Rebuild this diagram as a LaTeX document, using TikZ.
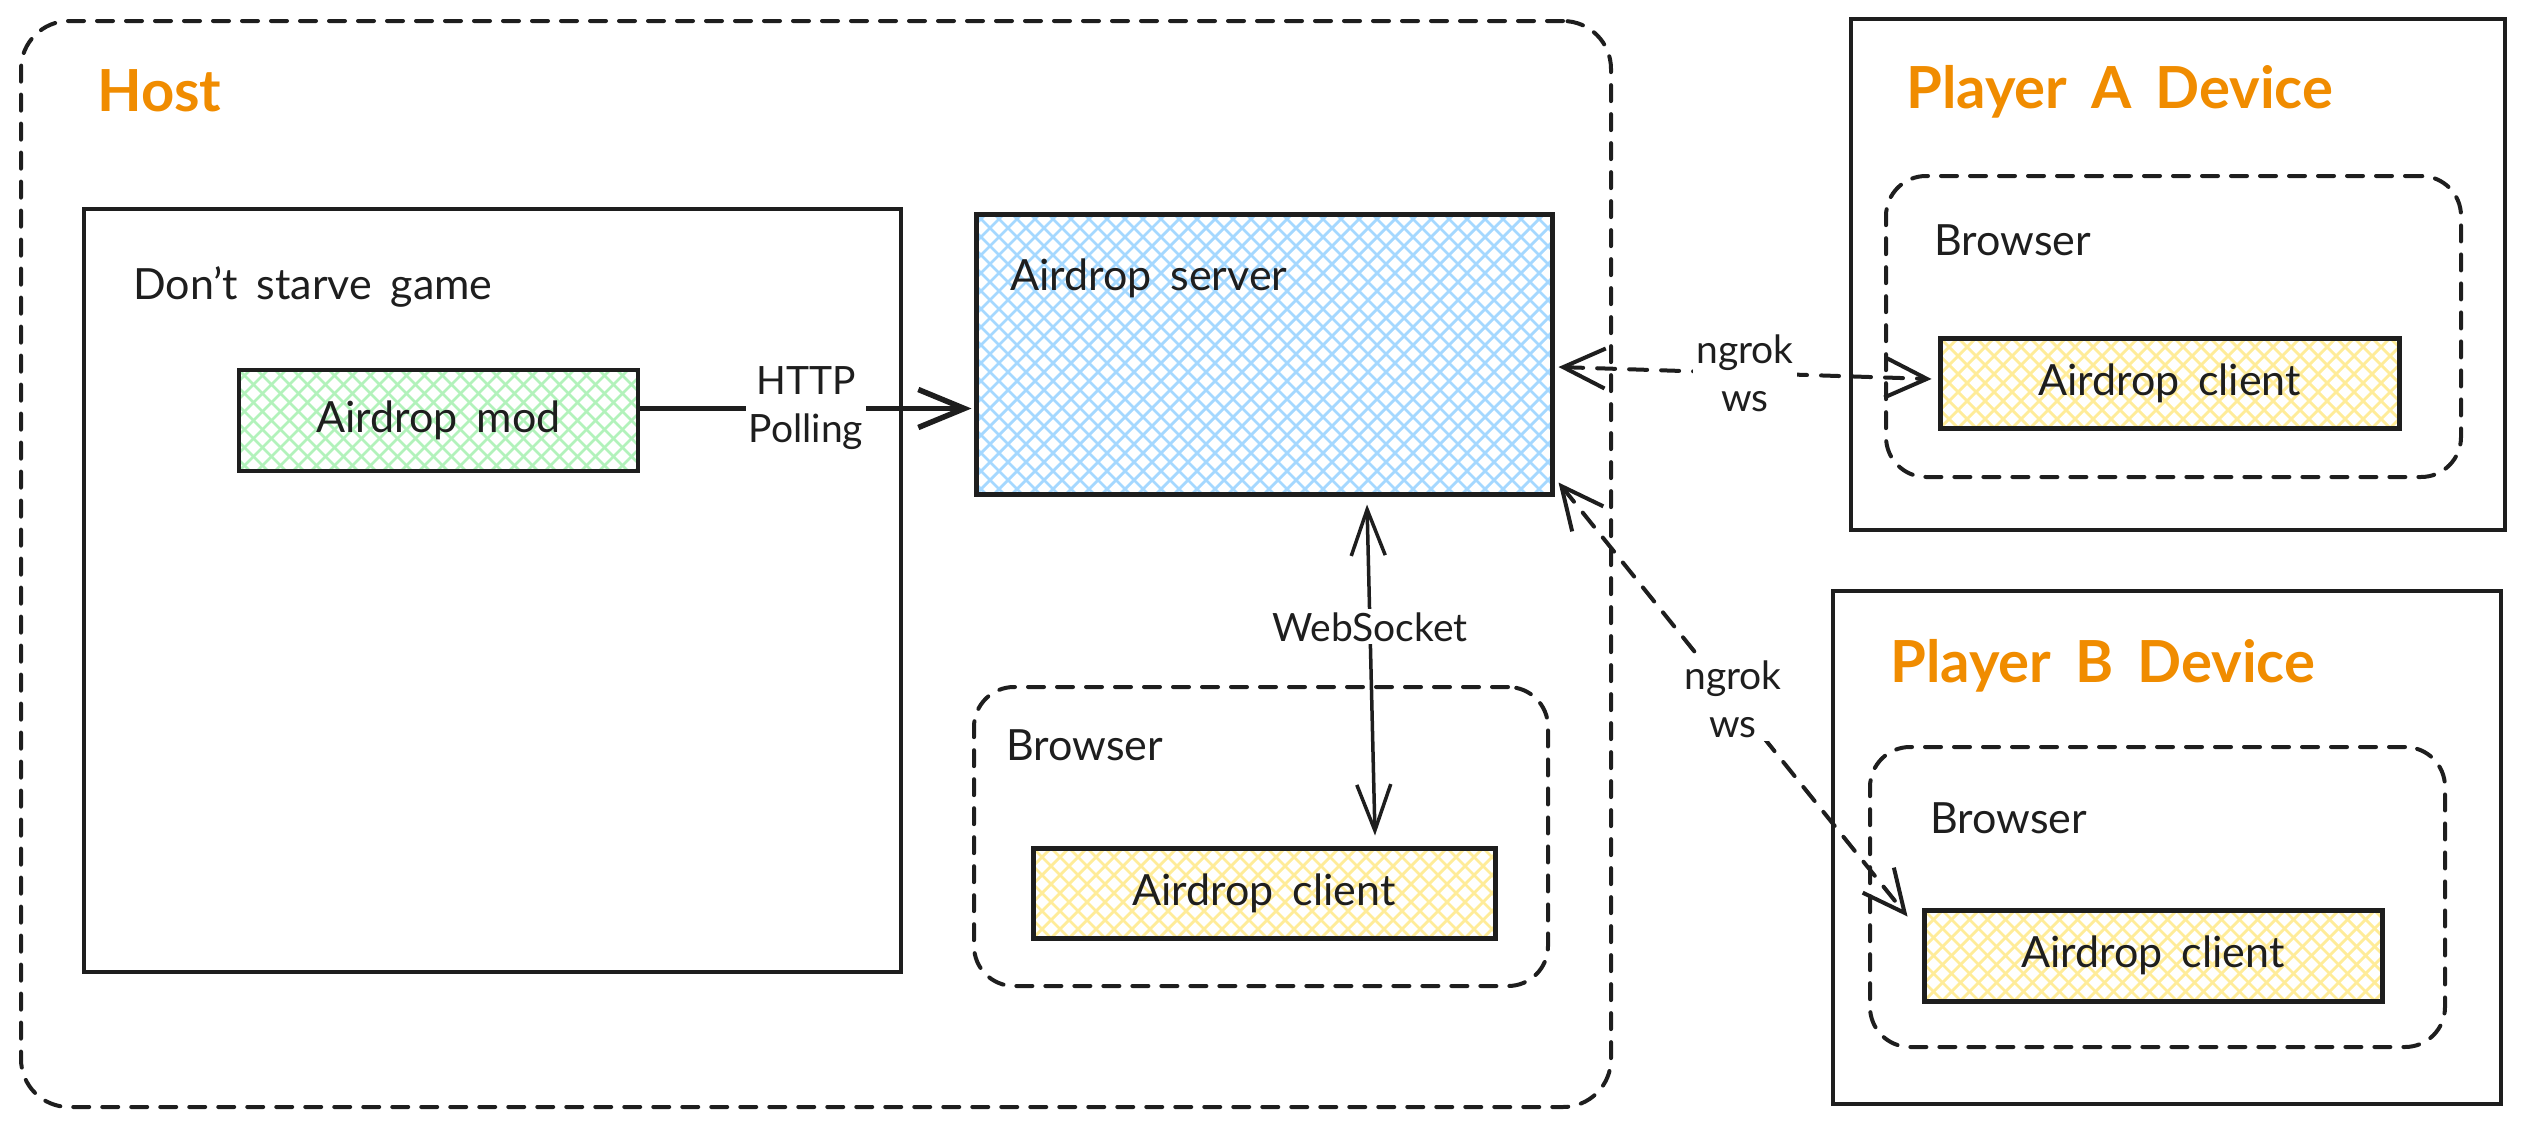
\documentclass[tikz,border=0pt]{standalone}
\usepackage{fontspec}
\setmainfont[WordSpace=1.7]{Lato}
\usetikzlibrary{arrows.meta,calc}
\definecolor{ink}{HTML}{1E1E1E}
\definecolor{orng}{HTML}{F08C00}
\definecolor{hblue}{HTML}{A5D8FF}
\definecolor{hgreen}{HTML}{B2F2BB}
\definecolor{hyellow}{HTML}{FFEC99}
\begin{document}
\begin{tikzpicture}[x=1pt,y=-1pt,
  solidbox/.style={draw=ink, line width=#1, inner sep=0pt},
  dashbox/.style={draw=ink, line width=4pt, line cap=round, dash pattern=on 16pt off 13pt, rounded corners=#1, inner sep=0pt},
  hatch/.style={path picture={
    \foreach \i in {-20,...,36}{
      \draw[#1,line width=2.8pt] ([xshift=\i*18pt]path picture bounding box.south west) -- ++(400pt,400pt);
      \draw[#1,line width=2.8pt] ([xshift=\i*18pt]path picture bounding box.north west) -- ++(400pt,-400pt);
    }}},
  titletext/.style={text=orng, font=\fontsize{58}{62}\bfseries\selectfont, inner sep=0pt},
  bodytext/.style={text=ink, font=\fontsize{43}{50}\selectfont, inner sep=0pt},
  lbl/.style={text=ink, font=\fontsize{39}{48}\selectfont, fill=white, align=center, inner sep=3pt},
  link/.style={draw=ink, line width=#1, line cap=round},
  dashedlink/.style={draw=ink, line width=4pt, line cap=round, dash pattern=on 18pt off 14pt}
]
\useasboundingbox (0,0) rectangle (2523,1127);

% Host
\node[dashbox=48pt, minimum width=1590pt, minimum height=1086pt] (host) at (816,564) {};
\node[titletext, anchor=base west] (hostlbl) at (97,111) {Host};

% Don't starve game
\node[solidbox=3.5pt, minimum width=817pt, minimum height=763pt] (game) at (492.5,590.5) {};
\node[bodytext, anchor=base west] (gamelbl) at (133,299) {Don't starve game};

% Airdrop mod
\node[solidbox=4.5pt, hatch=hgreen, minimum width=399pt, minimum height=101pt, bodytext] (mod) at (438.5,420.5) {Airdrop mod};

% Airdrop server
\node[solidbox=5pt, hatch=hblue, minimum width=576pt, minimum height=280pt] (server) at (1264,354) {};
\node[bodytext, anchor=base west] (serverlbl) at (1010,290) {Airdrop server};

% Host browser
\node[dashbox=40pt, minimum width=574pt, minimum height=299pt] (hbrowser) at (1261,836.5) {};
\node[bodytext, anchor=base west] (hbrowserlbl) at (1006,760) {Browser};
\node[solidbox=5pt, hatch=hyellow, minimum width=462pt, minimum height=90pt, bodytext] (hclient) at (1264,893) {Airdrop client};

% Player A
\node[solidbox=4pt, minimum width=654pt, minimum height=511pt] (deva) at (2178,274.5) {};
\node[titletext, anchor=base west] (devalbl) at (1906,108) {Player A Device};
\node[dashbox=40pt, minimum width=575pt, minimum height=301pt] (browsera) at (2173.5,326.5) {};
\node[bodytext, anchor=base west] (browseralbl) at (1934,255) {Browser};
\node[solidbox=5pt, hatch=hyellow, minimum width=459pt, minimum height=90pt, bodytext] (clienta) at (2169.5,383) {Airdrop client};

% Player B
\node[solidbox=4pt, minimum width=668pt, minimum height=513pt] (devb) at (2167,847.5) {};
\node[titletext, anchor=base west] (devblbl) at (1890,682) {Player B Device};
\node[dashbox=40pt, minimum width=575pt, minimum height=300pt] (browserb) at (2157.5,897) {};
\node[bodytext, anchor=base west] (browserblbl) at (1930,833) {Browser};
\node[solidbox=5pt, hatch=hyellow, minimum width=458pt, minimum height=91pt, bodytext] (clientb) at (2153,955.5) {Airdrop client};

% Connectors
\draw[link=5.5pt, -{Straight Barb[length=46pt, width=38pt, line width=5.5pt]}]
  ([yshift=12pt]mod.east) -- ([yshift=12pt,xshift=-2pt]mod.east -| server.west)
  node[lbl, midway] {HTTP\\Polling};

\draw[link=3.5pt, {Straight Barb[length=46pt, width=34pt, line width=3.5pt]}-{Straight Barb[length=46pt, width=34pt, line width=3.5pt]}]
  ([xshift=103pt,yshift=-8pt]server.south) -- ([xshift=111pt,yshift=10pt]hclient.north)
  node[lbl, pos=0.37] {WebSocket};

\draw[dashedlink, {Straight Barb[length=42pt, width=40pt, line width=4pt]}-{Straight Barb[length=42pt, width=40pt, line width=4pt]}]
  ([yshift=-13pt,xshift=4pt]server.east) -- ([xshift=-6pt,yshift=4pt]clienta.west)
  node[lbl, midway] {ngrok\\ws};

\draw[dashedlink, {Straight Barb[length=42pt, width=40pt, line width=4pt]}-{Straight Barb[length=42pt, width=40pt, line width=4pt]}]
  ([yshift=14pt,xshift=4pt]server.south east) -- ([xshift=-14pt,yshift=-9pt]clientb.north west)
  node[lbl, midway] {ngrok\\ws};
\end{tikzpicture}
\end{document}
